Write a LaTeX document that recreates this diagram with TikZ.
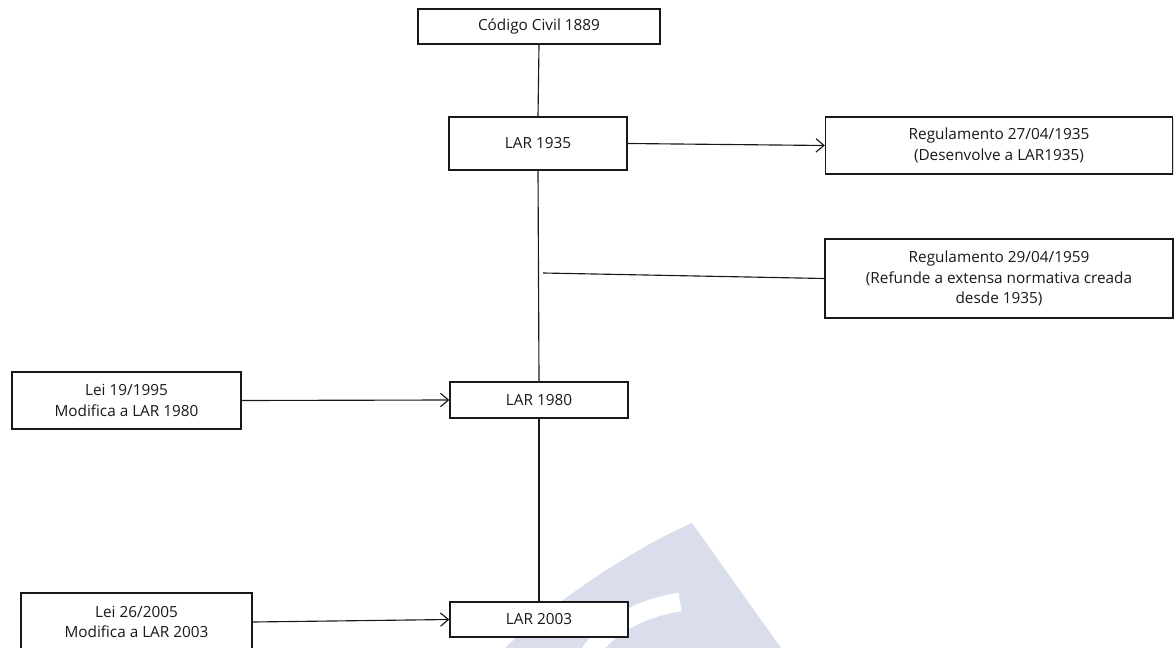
\documentclass[tikz,border=0pt]{standalone}
\usepackage{fontspec}
\setmainfont{Open Sans}
\usetikzlibrary{arrows.meta,shadows}
\definecolor{wmblue}{RGB}{218,222,236}

\begin{document}
\begin{tikzpicture}[x=0.75pt,y=-0.75pt,every text node part/.style={align=center},
lawbox/.style={draw=black!90, line width=1pt, fill=white, inner sep=2pt, text=black!90, font=\fontsize{11.5}{15.5}\selectfont, drop shadow={shadow xshift=0.8pt,shadow yshift=-0.8pt,opacity=0.25}},
link/.style={line width=0.85pt, draw=black!90}, linkto/.style={link, -{Straight Barb[length=6pt,width=10pt]}}]
\useasboundingbox (0,0) rectangle (1176,648);
% watermark behind the chart
\fill[wmblue] (505,648) .. controls (550,605) and (630,550) .. (692,523) -- (781,648) -- cycle;
\draw[white, line width=14pt] (680,602) .. controls (640,608) and (602,628) .. (586,660);
% main line
\node[lawbox, minimum width=181.5pt, minimum height=26.25pt] (cc) at (539,26.5) {Código Civil 1889};
\node[lawbox, minimum width=133.5pt, minimum height=39.75pt] (l35) at (538,143.5) {LAR 1935};
\node[lawbox, minimum width=133.5pt, minimum height=27pt] (l80) at (539,400) {LAR 1980};
\node[lawbox, minimum width=133.5pt, minimum height=26.25pt] (l03) at (539,619.5) {LAR 2003};
% side texts
\node[lawbox, minimum width=260.25pt, minimum height=42.75pt] (r35) at (999,145.5) {Regulamento 27/04/1935\\(Desenvolve a LAR1935)};
\node[lawbox, minimum width=261pt, minimum height=59.25pt] (r59) at (999,278.5) {Regulamento 29/04/1959\\(Refunde a extensa normativa creada\\desde 1935)};
\node[lawbox, minimum width=171.75pt, minimum height=42.75pt] (lei95) at (126.5,400.5) {Lei 19/1995\\Modifica a LAR 1980};
\node[lawbox, minimum width=173.25pt, minimum height=43.5pt] (lei05) at (136.5,622) {Lei 26/2005\\Modifica a LAR 2003};
\coordinate (j59) at (543,273);
% connectors
\draw[link] (cc.south) -- (l35.north);
\draw[link] (l35.south) -- (l80.north);
\draw[link] (l80.south) -- (l03.north);
\draw[linkto] (l35.east) -- (r35.west);
\draw[link] (j59) -- (r59.west);
\draw[linkto] (lei95.east) -- (l80.west);
\draw[linkto] (lei05.east) -- (l03.west);
\end{tikzpicture}
\end{document}
